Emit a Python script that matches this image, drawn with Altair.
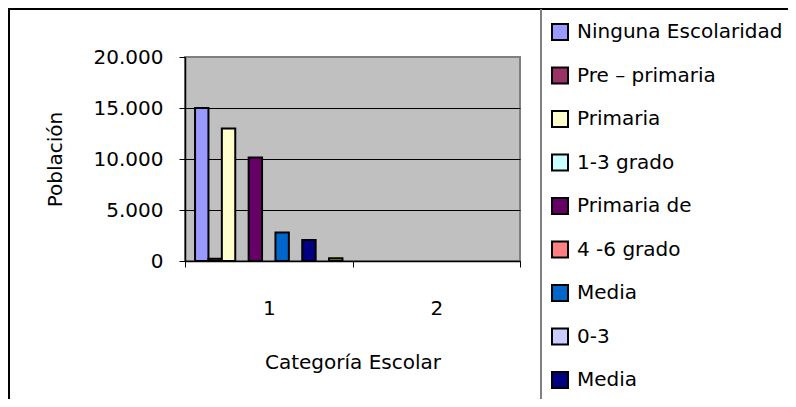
import altair as alt
import pandas as pd

# Series (legend order); the last two are cut off in the reference legend
series_keys = ["s01", "s02", "s03", "s04", "s05", "s06", "s07", "s08", "s09", "s10", "s11"]
series_labels = ["Ninguna Escolaridad", "Pre \u2013 primaria", "Primaria", "1-3 grado",
                 "Primaria de", "4 -6 grado", "Media", "0-3", "Media", "Serie 10", "Serie 11"]
series_colors = ["#9999FF", "#993366", "#FFFFCC", "#CCFFFF", "#660066", "#FF8080",
                 "#0066CC", "#CCCCFF", "#000080", "#FF00FF", "#999900"]

categories = ["1", "2"]
# values for category "1" (zero series have no visible bar); category "2" is empty
cat1_values = [15000, 230, 13000, 0, 10150, 0, 2800, 0, 2050, 0, 280]

y_ticks = [0, 5000, 10000, 15000, 20000]

rows = [{"cat": "1", "key": k, "val": v} for k, v in zip(series_keys, cat1_values) if v > 0]
df = pd.DataFrame(rows)

FONT = "DejaVu Sans"
label_array = "[" + ",".join("'" + s + "'" for s in series_labels) + "]"

bars = alt.Chart(df).mark_bar(stroke="black", strokeWidth=2).encode(
    x=alt.X("cat:N",
            scale=alt.Scale(domain=categories, paddingInner=0, paddingOuter=0),
            axis=alt.Axis(title="Categoría Escolar", labelAngle=0, tickBand="extent",
                          tickSize=6, tickColor="black", domainColor="black", domainWidth=1.5,
                          labelFontSize=20, labelPadding=31, labelColor="black",
                          titleFontSize=20, titleFontWeight="normal", titlePadding=34,
                          titleColor="black", grid=False)),
    xOffset=alt.XOffset("key:N", scale=alt.Scale(domain=series_keys, paddingInner=0, paddingOuter=0.75)),
    y=alt.Y("val:Q",
            scale=alt.Scale(domain=[0, 20000], nice=False),
            axis=alt.Axis(title="Población", values=y_ticks,
                          labelExpr="replace(format(datum.value, ','), ',', '.')",
                          tickSize=6, tickColor="black", domainColor="black", domainWidth=1.5,
                          labelFontSize=20, labelPadding=16, labelColor="black",
                          titleFontSize=20, titleFontWeight="normal", titlePadding=28,
                          titleColor="black",
                          grid=True, gridWidth=1,
                          gridColor={"condition": {"test": "datum.value >= 20000", "value": "#808080"},
                                     "value": "black"})),
    color=alt.Color("key:N",
                    scale=alt.Scale(domain=series_keys, range=series_colors),
                    legend=alt.Legend(title=None, orient="none", legendX=365, legendY=-35,
                                      values=series_keys[:9],
                                      labelExpr=label_array + "[toNumber(substring(datum.value, 1)) - 1]",
                                      symbolType="square", symbolSize=256,
                                      symbolStrokeColor="black", symbolStrokeWidth=2,
                                      labelFontSize=20, labelColor="black", labelOffset=7,
                                      labelLimit=400, rowPadding=19.5, padding=0)),
)

one = pd.DataFrame({"a": [0]})
frame = alt.Chart(one).mark_rect(fill="transparent", stroke="black", strokeWidth=2).encode(
    x=alt.value(-176), x2=alt.value(900), y=alt.value(-48), y2=alt.value(700)
)
legend_border = alt.Chart(one).mark_rule(stroke="#808080", strokeWidth=2).encode(
    x=alt.value(356), y=alt.value(-48), y2=alt.value(700)
)

chart = alt.layer(bars, frame, legend_border).properties(
    width=335, height=204,
    padding={"left": 177, "top": 49, "right": 268, "bottom": 138},
    autosize=alt.AutoSizeParams(type="none"),
    background="white",
).configure(font=FONT).configure_view(fill="#C0C0C0", stroke="#808080", strokeWidth=2)

chart.save("out.html", embed_options={"renderer": "svg", "actions": False})
